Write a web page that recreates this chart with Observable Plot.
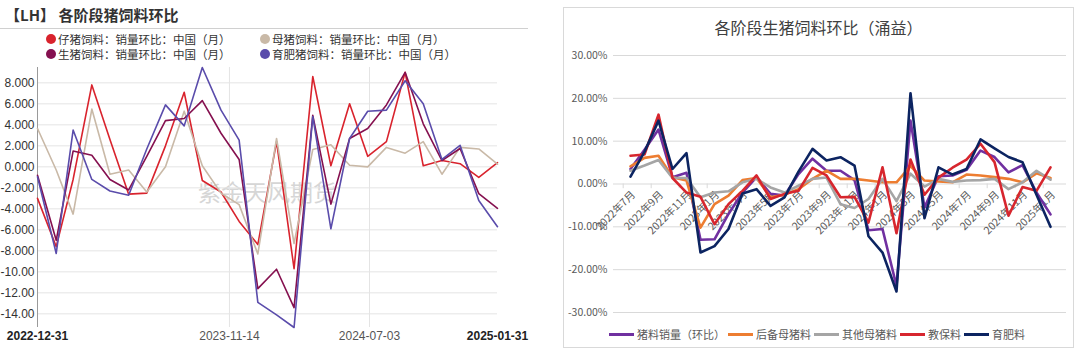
<!DOCTYPE html>
<html><head><meta charset="utf-8">
<script src="https://cdn.jsdelivr.net/npm/d3@7"></script>
<script src="https://cdn.jsdelivr.net/npm/@observablehq/plot@0.6"></script>
<style>
body{margin:0;background:#fff;font-family:"Noto Sans CJK SC","Noto Sans",sans-serif;}
#root{position:relative;width:1080px;height:352px;overflow:hidden;background:#fff;}
.abs{position:absolute;}
.lg{display:flex;align-items:center;white-space:nowrap;}
.dot{display:inline-block;width:10px;height:10px;border-radius:50%;margin-right:2px;}
.sw{display:inline-block;width:25px;height:3px;margin-right:3px;}
</style></head><body><div id="root"></div>
<script>
// ---------- Left chart data ----------
const leftDates = ["2022-12-31","2023-01-31","2023-02-28","2023-03-31","2023-04-30","2023-05-31","2023-06-30","2023-07-31","2023-08-31","2023-09-30","2023-10-31","2023-11-30","2023-12-31","2024-01-31","2024-02-29","2024-03-31","2024-04-30","2024-05-31","2024-06-30","2024-07-31","2024-08-31","2024-09-30","2024-10-31","2024-11-30","2024-12-31","2025-01-31"];
const leftEndTicks = ["2022-12-31","2025-01-31"];
const leftMidTicks = ["2023-11-14","2024-07-03"];
const leftYTicks = [-14,-12,-10,-8,-6,-4,-2,0,2,4,6,8];
const leftNames = ["仔猪饲料：销量环比：中国（月）","母猪饲料：销量环比：中国（月）","生猪饲料：销量环比：中国（月）","育肥猪饲料：销量环比：中国（月）"];
const pigletFeed = [-3.0,-7.6,-1.2,7.8,2.6,-2.6,-2.5,2.0,7.1,-1.3,-2.4,-5.2,-7.4,2.4,-9.7,8.6,0.1,6.0,1.0,2.4,9.0,0.1,0.6,0.3,-1.0,0.4];
const sowFeed = [3.65,-0.3,-4.5,5.5,-0.7,-0.3,-2.4,0.0,5.3,0.1,-2.5,-3.6,-8.3,2.7,-7.3,1.65,2.1,0.15,0.0,1.85,1.3,2.4,-0.7,1.85,1.7,0.25];
const hogFeed = [-0.8,-7.0,1.5,1.1,-1.2,-2.2,1.0,4.4,4.6,6.3,3.2,0.7,-11.6,-9.75,-13.4,4.9,-3.55,2.7,3.65,5.9,9.0,4.1,0.6,1.75,-2.55,-3.95];
const finisherFeed = [-0.95,-8.25,3.5,-1.2,-2.3,-2.7,1.7,5.9,3.9,9.46,5.4,2.55,-12.9,-14.1,-15.3,4.8,-5.9,2.7,5.3,5.4,8.2,6.0,0.7,2.05,-3.2,-5.7];
const leftColors = ["#d9232d","#c9b9a7","#85104f","#5a4cab"];

// ---------- Right chart data ----------
const rightMonths = ["2022年7月","2022年8月","2022年9月","2022年10月","2022年11月","2022年12月","2023年1月","2023年2月","2023年3月","2023年4月","2023年5月","2023年6月","2023年7月","2023年8月","2023年9月","2023年10月","2023年11月","2023年12月","2024年1月","2024年2月","2024年3月","2024年4月","2024年5月","2024年6月","2024年7月","2024年8月","2024年9月","2024年10月","2024年11月","2024年12月","2025年1月"];
const rightYTicks = [-30,-20,-10,0,10,20,30];
const rightNames = ["猪料销量（环比）","后备母猪料","其他母猪料","教保料","育肥料"];
const totalFeed = [3.5,8.0,12.7,1.6,2.6,-13.0,-12.9,-7.0,-2.0,1.6,-2.3,-2.7,2.3,5.9,3.1,3.1,0.9,-10.8,-10.5,-23.8,14.8,-5.5,1.8,2.0,3.3,7.8,6.3,2.7,4.4,-2.0,-7.1];
const giltFeed = [4.1,6.1,6.6,1.6,0.8,-10.2,-4.7,-2.7,0.9,1.4,-3.1,-2.5,-1.2,1.2,3.1,1.2,1.2,0.8,0.4,0.4,4.2,0.8,0.6,0.4,2.2,2.0,1.6,1.2,0.4,2.5,1.4];
const otherSowFeed = [3.1,4.3,5.6,1.4,1.4,-3.1,-2.0,-1.7,0.4,1.2,-0.8,-2.0,-0.4,1.2,1.5,-4.7,-5.6,-3.5,1.2,-4.0,2.4,-0.6,1.2,0.5,0.8,0.9,1.2,-1.2,0.4,3.1,1.0];
const nurseryFeed = [6.6,6.9,16.2,1.4,-2.0,-3.0,-9.4,-4.7,-1.6,2.0,-3.5,-2.3,-1.6,3.75,2.0,-3.1,-3.0,-9.0,3.9,-11.5,5.7,-2.5,1.5,3.8,5.7,9.4,5.1,-7.4,-0.7,-1.6,3.9];
const growFeed = [1.7,7.5,14.8,3.5,7.2,-16.0,-14.5,-10.5,-2.2,-1.2,-5.1,-3.1,2.9,8.2,5.5,6.25,4.3,-12.2,-16.0,-25.1,21.2,-8.0,3.9,2.2,3.5,10.4,8.3,6.3,5.1,-2.5,-10.0];
const rightColors = ["#7030a0","#ed7d31","#a5a5a5","#d7262e","#0c2461"];

const root = document.getElementById("root");
function el(tag, css, html){const e=document.createElement(tag);e.style.cssText=css;if(html!==undefined)e.innerHTML=html;root.appendChild(e);return e;}

// ---------- Left chart ----------
const parse = d3.utcParse("%Y-%m-%d");
const leftValues = [pigletFeed, sowFeed, hogFeed, finisherFeed];
el("div","position:absolute;left:5px;top:5px;font-size:15px;font-weight:bold;color:#333;font-family:'Noto Sans CJK SC';line-height:20px;","【LH】 各阶段猪饲料环比");
el("div","position:absolute;left:0;top:28px;width:528px;height:1px;background:#d0d0d0;");
const legPos = [[46,31],[260,31],[46,46],[260,46]];
leftNames.forEach((n,i)=>{
  el("div",`position:absolute;left:${legPos[i][0]}px;top:${legPos[i][1]}px;font-size:11.5px;color:#333;line-height:16px;`,
    `<span class="lg"><span class="dot" style="background:${leftColors[i]}"></span>${n}</span>`);
});
el("div","position:absolute;left:198px;top:174px;font-size:23px;color:#d6d6d6;letter-spacing:0px;","紫金天风期货");

const leftMarks = [
  Plot.gridY(leftYTicks, {stroke:"#e4e4e4", strokeOpacity:1}),
  Plot.ruleX(leftMidTicks.map(parse), {stroke:"#e4e4e4"}),
  Plot.ruleX([parse(leftDates[0])], {stroke:"#9a9a9a"}),
  Plot.axisY({ticks:leftYTicks, tickFormat:d=>Math.abs(d)>=10? d.toFixed(2): d.toFixed(3), tickSize:0, tickPadding:3, label:null, fontSize:12, fill:"#333"}),
  Plot.axisX({ticks:leftEndTicks.map(parse), tickFormat:d3.utcFormat("%Y-%m-%d"), tickSize:0, tickPadding:4, label:null, fontSize:12, fontWeight:"bold", fill:"#222"}),
  Plot.axisX({ticks:leftMidTicks.map(parse), tickFormat:d3.utcFormat("%Y-%m-%d"), tickSize:0, tickPadding:4, label:null, fontSize:12, fill:"#555"})
];
leftValues.forEach((vals,k)=>{
  leftMarks.push(Plot.line(vals.map((v,i)=>({date:parse(leftDates[i]), value:v})), {x:"date", y:"value", stroke:leftColors[k], strokeWidth:1.6}));
});
const left = Plot.plot({
  width:540, height:292, marginLeft:37, marginRight:43, marginTop:9, marginBottom:23,
  style:{fontFamily:"'Liberation Sans',Arial,sans-serif", fontSize:"12px", background:"transparent", overflow:"visible"},
  x:{type:"utc", domain:[parse(leftDates[0]), parse(leftDates[leftDates.length-1])], axis:null},
  y:{axis:null},
  marks:leftMarks
});
const lw = el("div","position:absolute;left:0;top:58px;");
lw.appendChild(left);

// ---------- Right chart ----------
el("div","position:absolute;left:563px;top:7px;width:511px;height:341px;border:1px solid #d9d9d9;box-sizing:border-box;");
el("div","position:absolute;left:563px;top:16px;width:511px;text-align:center;font-size:16px;color:#404040;line-height:22px;","各阶段生猪饲料环比（涌益）");
const rightValues = [totalFeed, giltFeed, otherSowFeed, nurseryFeed, growFeed];
const labelMonths = rightMonths.filter((d,i)=>i%2===0);
const rightMarks = [
  Plot.gridY(rightYTicks, {stroke:"#d9d9d9", strokeOpacity:1}),
  Plot.ruleX(labelMonths, {x:d=>d, y1:()=>0, y2:()=>-1.1, dx:-7.3, stroke:"#d9d9d9"}),
  Plot.axisY({ticks:rightYTicks, tickFormat:d=>d.toFixed(2)+"%", tickSize:0, tickPadding:6, label:null, fontSize:10.5, fill:"#595959"}),
  Plot.text(labelMonths, {x:d=>d, y:()=>0, text:d=>d, rotate:-45, textAnchor:"end", dx:3, dy:9, fontSize:10.5, fill:"#595959"})
];
rightValues.forEach((vals,k)=>{
  rightMarks.push(Plot.line(vals.map((v,i)=>({m:rightMonths[i], value:v})), {x:"m", y:"value", stroke:rightColors[k], strokeWidth:2.6}));
});
const right = Plot.plot({
  width:520, height:275, marginLeft:58, marginRight:9, marginTop:10, marginBottom:8,
  style:{fontFamily:"'Noto Sans CJK SC','Liberation Sans',sans-serif", fontSize:"10.5px", background:"transparent", overflow:"visible"},
  x:{type:"point", domain:rightMonths, padding:0.5, axis:null},
  y:{domain:[-30,30], axis:null},
  marks:rightMarks
});
const rw = el("div","position:absolute;left:555px;top:45px;");
rw.appendChild(right);

const rl = el("div","position:absolute;left:563px;top:325px;width:511px;display:flex;justify-content:center;font-size:11px;color:#595959;line-height:18px;");
rightNames.forEach((n,i)=>{
  const s=document.createElement("span");
  s.className="lg";
  s.style.marginRight="3px";
  s.innerHTML=`<span class="sw" style="background:${rightColors[i]}"></span>${n}`;
  rl.appendChild(s);
});
</script></body></html>
